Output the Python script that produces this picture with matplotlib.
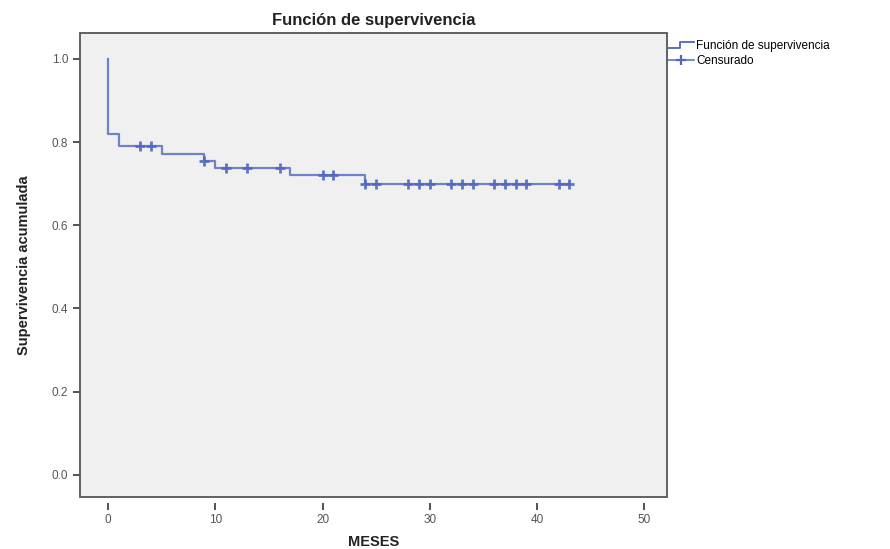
import matplotlib
matplotlib.use("Agg")
import matplotlib.pyplot as plt
import numpy as np
from matplotlib.lines import Line2D
from matplotlib.legend_handler import HandlerBase
from matplotlib.patches import Rectangle

plt.rcParams["font.family"] = ["Liberation Sans", "DejaVu Sans"]

# Data
step_times = [0, 0, 1, 5, 9, 10, 17, 24, 43]
step_surv = [1.0, 0.82, 0.79, 0.772, 0.755, 0.738, 0.72, 0.70, 0.70]
censor_times = [3, 4, 9, 11, 13, 16, 20, 21, 24, 25, 28, 29, 30, 32, 33, 34,
                36, 37, 38, 39, 42, 43]
x_ticks = [0, 10, 20, 30, 40, 50]
y_ticks = [0.0, 0.2, 0.4, 0.6, 0.8, 1.0]

def surv_at(t):
    val = step_surv[0]
    for st, sv in zip(step_times, step_surv):
        if st <= t:
            val = sv
    return val

censor_surv = [surv_at(t) for t in censor_times]

line_color = "#4f66c2"

fig = plt.figure(figsize=(8.9, 5.49), dpi=100)
fig.patch.set_facecolor("white")
ax = fig.add_axes([80/890, 1 - 497/549, (667-80)/890, (497-33)/549])
ax.set_facecolor("#f0f0f0")

ax.plot(step_times, step_surv, drawstyle="steps-post", color=line_color,
        lw=1.6, alpha=0.8)
ax.plot(censor_times, censor_surv, linestyle="none", marker="+",
        color=line_color, ms=6.5, mew=2.0, alpha=0.9)

ax.set_xlim(-2.6, 52.1)
ax.set_ylim(-0.053, 1.062)
ax.set_xticks(x_ticks)
ax.set_xticklabels([str(v) for v in x_ticks])
ax.set_yticks(y_ticks)
ax.set_yticklabels([f"{v:.1f}" for v in y_ticks])

# frame
for s in ax.spines.values():
    s.set_visible(False)
frame = Rectangle((0, 0), 1, 1, transform=ax.transAxes, fill=False,
                  edgecolor="#555555", lw=1.3, clip_on=False, zorder=5)
ax.add_patch(frame)
ax.spines["bottom"].set_position(("outward", 4))

ax.tick_params(axis="both", colors="#444444", labelcolor="#555555",
               labelsize=8.5, direction="out", length=5, width=1.3)
ax.tick_params(axis="x", pad=3)

ax.set_title("Función de supervivencia", fontsize=12, fontweight="bold",
             color="#222222", pad=6)
ax.set_xlabel("MESES", fontsize=10.5, fontweight="bold", color="#222222",
              labelpad=6.5)
ax.set_ylabel("Supervivencia acumulada", fontsize=10.5, fontweight="bold",
              color="#222222", labelpad=15)


class StepHandler(HandlerBase):
    def create_artists(self, legend, orig_handle, xdescent, ydescent,
                       width, height, fontsize, trans):
        x0 = -xdescent
        y0 = -ydescent
        xs = [x0, x0 + width * 0.45, x0 + width * 0.45, x0 + width]
        ys = [y0 + height * 0.15, y0 + height * 0.15, y0 + height * 0.85,
              y0 + height * 0.85]
        l = Line2D(xs, ys, color=line_color, lw=1.3, transform=trans)
        return [l]


step_handle = Line2D([], [], color=line_color)
censor_handle = Line2D([], [], color=line_color, marker="+", ms=7, mew=1.6,
                       lw=1.1)
fig.legend([step_handle, censor_handle],
           ["Función de supervivencia", "Censurado"],
           handler_map={step_handle: StepHandler()},
           loc="upper left", bbox_to_anchor=(667/890, 1 - 39/549),
           frameon=False, fontsize=8.5, handlelength=2.2, handletextpad=0.15,
           labelspacing=0.25, borderpad=0.1, borderaxespad=0)

fig.savefig("out.png", dpi=100)
